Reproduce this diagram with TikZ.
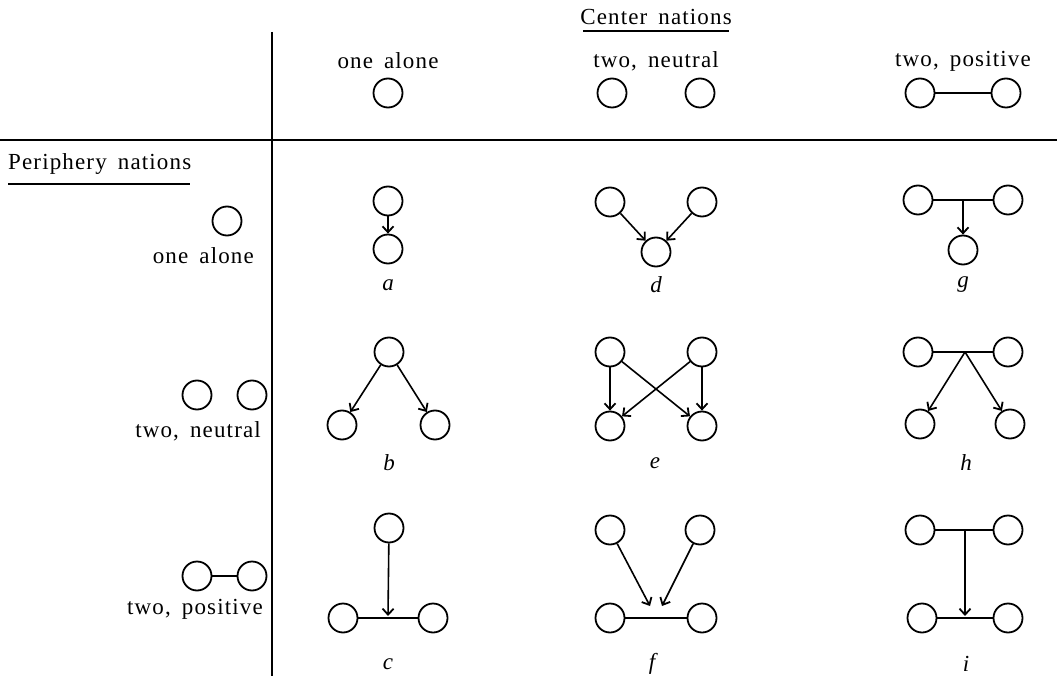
\documentclass[tikz,border=0pt]{standalone}
\usepackage{fontspec}
\setmainfont{Liberation Serif}
\newfontfamily\hdrfont[LetterSpace=5,WordSpace=1.6]{Liberation Serif}
\usetikzlibrary{arrows.meta}
\begin{document}
\begin{tikzpicture}[x=1pt,y=-1pt,
  nat/.style={circle,draw,line width=1.8pt,minimum size=29pt,inner sep=0pt},
  arr/.style={line width=1.6pt,-{Straight Barb[length=6pt,width=11pt,line width=1.8pt]}},
  posline/.style={line width=1.6pt},
  rulel/.style={line width=1.1pt},
  uline/.style={line width=2pt},
  lbl/.style={font=\fontsize{23}{25}\selectfont\itshape,inner sep=0pt},
  hdr/.style={font=\hdrfont\fontsize{23}{25}\selectfont,inner sep=0pt},
]
\useasboundingbox (0,0) rectangle (1057,676);
% frame lines
\coordinate (hl) at (0,140); \coordinate (hr) at (1057,140);
\coordinate (vt) at (272,32); \coordinate (vb) at (272,676);
\draw[rulel] (hl) -- (hr);
\draw[rulel] (vt) -- (vb);
% top header
\node[hdr] (cn) at (656,17) {Center nations};
\coordinate (cnl) at (583,31); \coordinate (cnr) at (729,31);
\draw[uline] (cnl) -- (cnr);
\node[hdr] (h1) at (388,61) {one alone};
\node[hdr] (h2) at (656,61) {two, neutral};
\node[hdr] (h3) at (963,61) {two, positive};
\node[nat] (hc1) at (388,93) {};
\node[nat] (hc2) at (612,93) {};
\node[nat] (hc3) at (700,93) {};
\node[nat] (hc4) at (920,93) {};
\node[nat] (hc5) at (1006,93) {};
\draw[posline] (hc4) -- (hc5);
% left header
\node[hdr,anchor=west] (pn) at (8,164) {Periphery nations};
\coordinate (pnl) at (8,184); \coordinate (pnr) at (190,184);
\draw[uline] (pnl) -- (pnr);
\node[nat] (r1) at (227,221) {};
\node[hdr,anchor=east] (t1) at (254,256) {one alone};
\node[nat] (r2a) at (197,395) {};
\node[nat] (r2b) at (252,395) {};
\node[hdr,anchor=east] (t2) at (261,431) {two, neutral};
\node[nat] (r3a) at (197,576) {};
\node[nat] (r3b) at (252,576) {};
\draw[posline] (r3a) -- (r3b);
\node[hdr,anchor=east] (t3) at (263,609) {two, positive};
% cell a
\node[nat] (a1) at (388,201) {};
\node[nat] (a2) at (388,249) {};
\draw[arr] (a1) -- (a2);
\node[lbl] (la) at (388,285) {a};
% cell d
\node[nat] (d1) at (610,202) {};
\node[nat] (d2) at (702,202) {};
\node[nat] (d3) at (656,252) {};
\draw[arr] (d1) -- (d3);
\draw[arr] (d2) -- (d3);
\node[lbl] (ld) at (656,285) {d};
% cell g
\node[nat] (g1) at (918,200) {};
\node[nat] (g2) at (1008,200) {};
\node[nat] (g3) at (963,250) {};
\draw[posline] (g1) -- (g2);
\coordinate (gj) at (963,200);
\draw[arr] (gj) -- (g3);
\node[lbl] (lg) at (963,285) {g};
% cell b
\node[nat] (b1) at (389,352) {};
\node[nat] (b2) at (342,425) {};
\node[nat] (b3) at (435,425) {};
\draw[arr] (b1) -- (b2);
\draw[arr] (b1) -- (b3);
\node[lbl] (lb) at (389,463) {b};
% cell e
\node[nat] (e1) at (610,352) {};
\node[nat] (e2) at (702,352) {};
\node[nat] (e3) at (610,426) {};
\node[nat] (e4) at (702,426) {};
\draw[arr] (e1) -- (e3);
\draw[arr] (e1) -- (e4);
\draw[arr] (e2) -- (e3);
\draw[arr] (e2) -- (e4);
\node[lbl] (le) at (655,463) {e};
% cell h
\node[nat] (hh1) at (918,352) {};
\node[nat] (hh2) at (1008,352) {};
\node[nat] (hh3) at (920,424) {};
\node[nat] (hh4) at (1010,424) {};
\draw[posline] (hh1) -- (hh2);
\coordinate (hj) at (965,352);
\draw[arr] (hj) -- (hh3);
\draw[arr] (hj) -- (hh4);
\node[lbl] (lh) at (966,463) {h};
% cell c
\node[nat] (c1) at (389,528) {};
\node[nat] (c2) at (343,618) {};
\node[nat] (c3) at (433,618) {};
\draw[posline] (c2) -- (c3);
\coordinate (cj) at (388,616);
\draw[arr] (c1) -- (cj);
\node[lbl] (lc) at (388,664) {c};
% cell f
\node[nat] (f1) at (610,530) {};
\node[nat] (f2) at (700,530) {};
\node[nat] (f3) at (610,618) {};
\node[nat] (f4) at (702,618) {};
\draw[posline] (f3) -- (f4);
\coordinate (fl) at (650,606);
\coordinate (fr) at (662,606);
\draw[arr] (f1) -- (fl);
\draw[arr] (f2) -- (fr);
\node[lbl] (lf) at (652,664) {f};
% cell i
\node[nat] (i1) at (920,530) {};
\node[nat] (i2) at (1008,530) {};
\node[nat] (i3) at (922,618) {};
\node[nat] (i4) at (1008,618) {};
\draw[posline] (i1) -- (i2);
\draw[posline] (i3) -- (i4);
\coordinate (ij1) at (965,530);
\coordinate (ij2) at (965,616);
\draw[arr] (ij1) -- (ij2);
\node[lbl] (li) at (966,664) {i};
\end{tikzpicture}
\end{document}
